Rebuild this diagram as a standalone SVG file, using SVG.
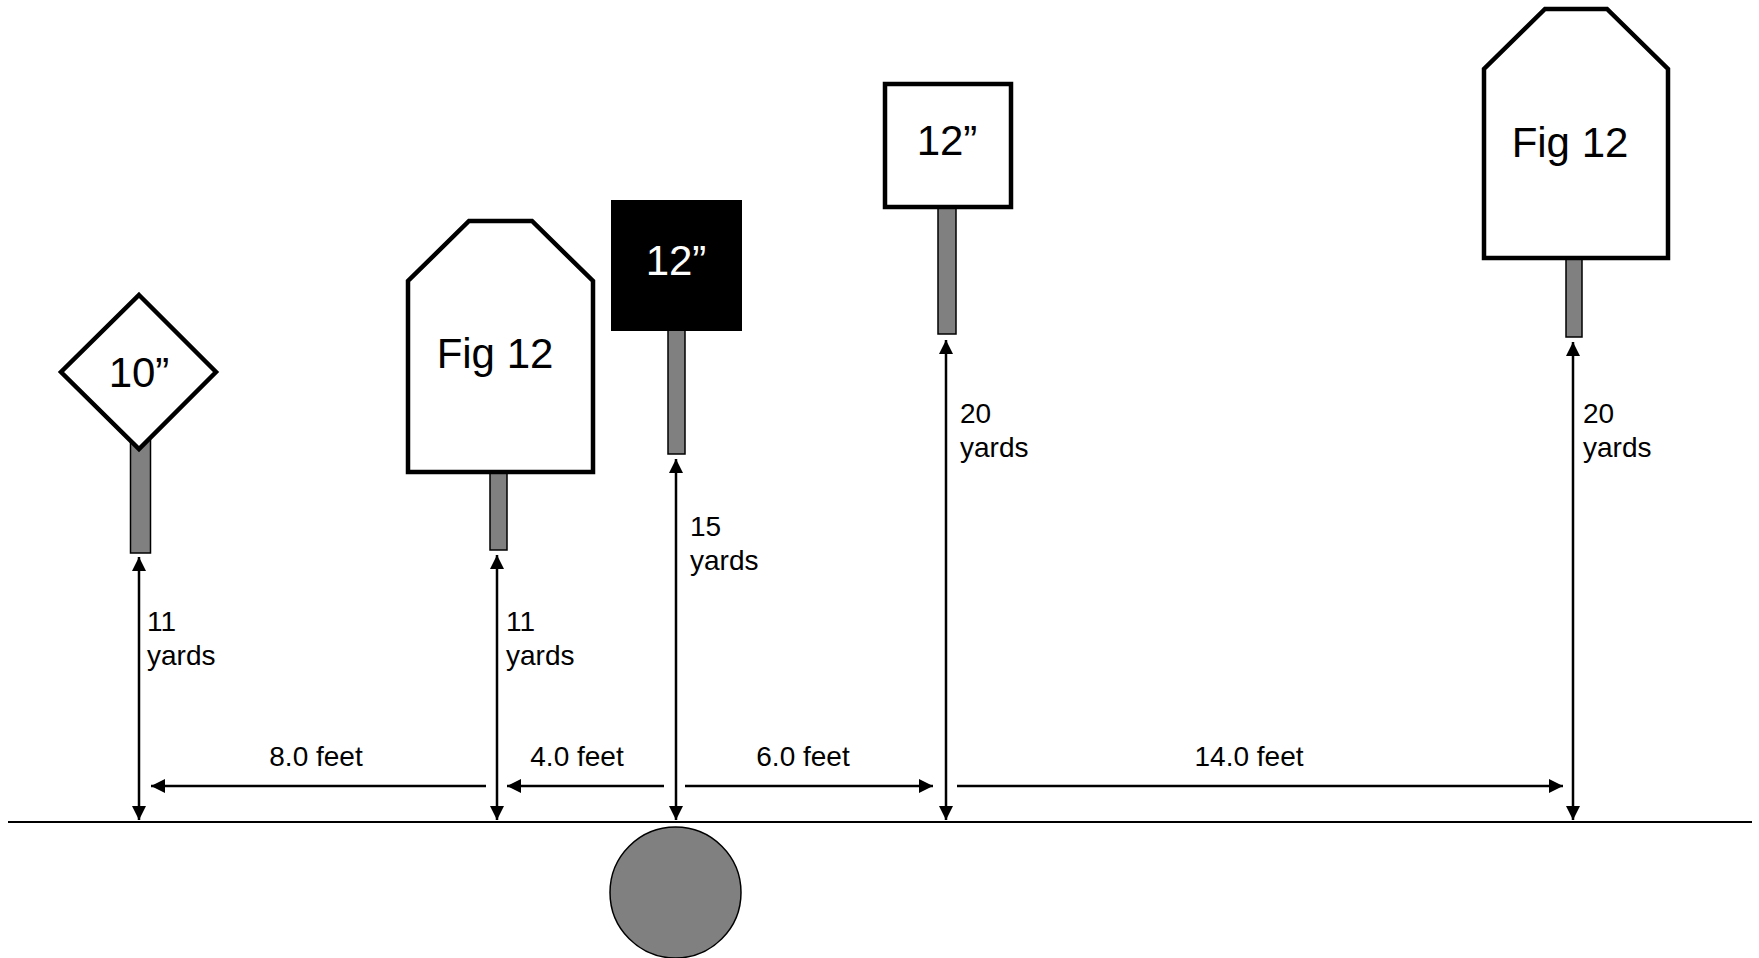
<svg xmlns="http://www.w3.org/2000/svg" width="1759" height="958" viewBox="0 0 1759 958">
<style>
.post{fill:#808080;stroke:#000;stroke-width:1.5}
.tgt{fill:#fff;stroke:#000;stroke-width:4.5;stroke-linejoin:miter}
.big{font-family:"Liberation Sans",Arial,sans-serif;font-size:42px;text-anchor:middle;fill:#000}
.sm{font-family:"Liberation Sans",Arial,sans-serif;font-size:28px;fill:#000}
.smc{font-family:"Liberation Sans",Arial,sans-serif;font-size:28px;fill:#000;text-anchor:middle}
.arr{stroke:#000;stroke-width:2.5;fill:none}
</style>
<defs>
<marker id="ah" viewBox="0 0 10 10" refX="10" refY="5" markerWidth="14" markerHeight="15" markerUnits="userSpaceOnUse" orient="auto-start-reverse">
<path d="M0,0 L10,5 L0,10 z" fill="#000"/>
</marker>
</defs>
<rect width="1759" height="958" fill="#fff"/>
<g id="ground">
<line x1="8" y1="822" x2="1752" y2="822" stroke="#000" stroke-width="2"/>
</g>
<g id="shooter">
<circle cx="675.5" cy="892.5" r="65.5" fill="#808080" stroke="#000" stroke-width="1.5"/>
</g>
<g id="target1">
<rect class="post" x="130.5" y="440" width="20" height="113"/>
<polygon class="tgt" points="139,295 216,372 139,449 61,372"/>
<text class="big" x="139" y="387">10”</text>
</g>
<g id="target2">
<rect class="post" x="490" y="470" width="17" height="80"/>
<polygon class="tgt" points="469,221 532,221 593,281 593,472 408,472 408,281"/>
<text class="big" x="495" y="368">Fig 12</text>
</g>
<g id="target3">
<rect class="post" x="668" y="328" width="17" height="126"/>
<rect x="611" y="200" width="131" height="131" fill="#000"/>
<text class="big" x="676" y="275" fill="#fff" style="fill:#fff">12”</text>
</g>
<g id="target4">
<rect class="post" x="938" y="205" width="18" height="129"/>
<rect class="tgt" x="885" y="84" width="126" height="123"/>
<text class="big" x="947" y="155">12”</text>
</g>
<g id="target5">
<rect class="post" x="1566" y="255" width="16" height="82"/>
<polygon class="tgt" points="1545,9 1607,9 1668,69 1668,258 1484,258 1484,69"/>
<text class="big" x="1570" y="157">Fig 12</text>
</g>
<g id="connectors">
<line class="arr" x1="139" y1="557" x2="139" y2="820" marker-start="url(#ah)" marker-end="url(#ah)"/>
<line class="arr" x1="497" y1="555" x2="497" y2="820" marker-start="url(#ah)" marker-end="url(#ah)"/>
<line class="arr" x1="676" y1="459" x2="676" y2="820" marker-start="url(#ah)" marker-end="url(#ah)"/>
<line class="arr" x1="946" y1="340" x2="946" y2="820" marker-start="url(#ah)" marker-end="url(#ah)"/>
<line class="arr" x1="1573" y1="342" x2="1573" y2="820" marker-start="url(#ah)" marker-end="url(#ah)"/>
<line class="arr" x1="486" y1="786" x2="151" y2="786" marker-end="url(#ah)"/>
<line class="arr" x1="664" y1="786" x2="507" y2="786" marker-end="url(#ah)"/>
<line class="arr" x1="685" y1="786" x2="933" y2="786" marker-end="url(#ah)"/>
<line class="arr" x1="957" y1="786" x2="1563" y2="786" marker-end="url(#ah)"/>
</g>
<g id="labels">
<text class="sm" x="147" y="631">11</text>
<text class="sm" x="147" y="665">yards</text>
<text class="sm" x="506" y="631">11</text>
<text class="sm" x="506" y="665">yards</text>
<text class="sm" x="690" y="536">15</text>
<text class="sm" x="690" y="570">yards</text>
<text class="sm" x="960" y="423">20</text>
<text class="sm" x="960" y="457">yards</text>
<text class="sm" x="1583" y="423">20</text>
<text class="sm" x="1583" y="457">yards</text>
<text class="smc" x="316" y="766">8.0 feet</text>
<text class="smc" x="577" y="766">4.0 feet</text>
<text class="smc" x="803" y="766">6.0 feet</text>
<text class="smc" x="1249" y="766">14.0 feet</text>
</g>
</svg>
